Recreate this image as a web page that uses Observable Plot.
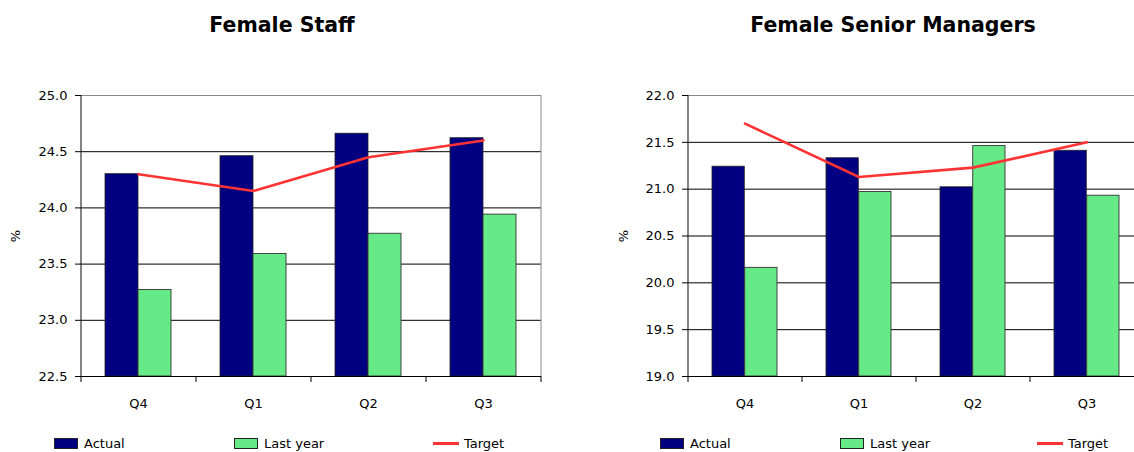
<!DOCTYPE html>
<html><head><meta charset="utf-8">
<script src="https://cdn.jsdelivr.net/npm/d3@7"></script>
<script src="https://cdn.jsdelivr.net/npm/@observablehq/plot@0.6"></script>
<style>
html,body{margin:0;padding:0;background:#fff;overflow:hidden;width:1134px;height:452px;}
#root{position:relative;width:1134px;height:452px;overflow:hidden;font-family:"DejaVu Sans",sans-serif;color:#000;}
.title{position:absolute;top:15px;font-weight:bold;font-size:20.5px;line-height:1;transform:translateX(-50%);white-space:nowrap;}
.chart{position:absolute;top:0;}
.chart svg{max-width:none !important;}
.ylab{position:absolute;font-size:13px;line-height:1;transform:translate(-50%,-50%) rotate(-90deg);}
.leg{position:absolute;top:435px;height:16px;font-size:13px;display:flex;align-items:center;white-space:nowrap;}
.sw{display:inline-block;width:22px;height:9px;border:1px solid #222;margin-right:6px;}
.ln{display:inline-block;width:26px;height:3px;background:#ff3333;margin-right:5px;}
</style></head>
<body><div id="root"></div>
<script>
// ---- data ----
const quarters = ["Q4", "Q1", "Q2", "Q3"];
const seriesNames = ["Actual", "Last year", "Target"];

const staffTitle = "Female Staff";
const staffActual = [24.30, 24.46, 24.66, 24.62];
const staffLastYear = [23.27, 23.59, 23.77, 23.94];
const staffTarget = [24.30, 24.15, 24.45, 24.60];
const staffTicks = [22.5, 23.0, 23.5, 24.0, 24.5, 25.0];

const mgrTitle = "Female Senior Managers";
const mgrActual = [21.24, 21.33, 21.02, 21.41];
const mgrLastYear = [20.16, 20.97, 21.46, 20.93];
const mgrTarget = [21.70, 21.13, 21.23, 21.50];
const mgrTicks = [19.0, 19.5, 20.0, 20.5, 21.0, 21.5, 22.0];

const colors = {"Actual": "#000080", "Last year": "#66EA88", "Target": "#FF3333"};

// ---- chart builder ----
function makeChart({actual, lastYear, target, ticks, width, marginLeft, step, rightBorder}) {
  const H = 420, mTop = 95, mBottom = 44;
  const marginRight = width - marginLeft - step * quarters.length;
  const ymin = ticks[0], ymax = ticks[ticks.length - 1];
  const pi = 0.426;
  const bandw = step * (1 - pi);
  const bars = quarters.flatMap((q, i) => [
    {quarter: q, series: "Actual", value: actual[i]},
    {quarter: q, series: "Last year", value: lastYear[i]}
  ]);
  const tgt = quarters.map((q, i) => ({quarter: q, value: target[i]}));
  const marks = [
    Plot.gridY(ticks.slice(1, -1), {stroke: "#000", strokeOpacity: 1, strokeWidth: 1}),
    Plot.ruleY([ymax], {stroke: "#888", strokeWidth: 1}),
    Plot.barY(bars.filter(d => d.series === "Actual"), {
      x: "quarter", y1: ymin, y2: "value", fill: colors["Actual"],
      stroke: "#222", strokeWidth: 0.8, insetRight: bandw / 2
    }),
    Plot.barY(bars.filter(d => d.series === "Last year"), {
      x: "quarter", y1: ymin, y2: "value", fill: colors["Last year"],
      stroke: "#333", strokeWidth: 0.9, insetLeft: bandw / 2
    }),
    Plot.lineY(tgt, {x: "quarter", y: "value", stroke: colors["Target"], strokeWidth: 2.6}),
    // category boundary ticks
    Plot.ruleX(quarters, {x: d => d, y1: ymin, y2: ymin, dx: -step / 2, insetBottom: -6, stroke: "#000"}),
    Plot.ruleX([quarters[quarters.length - 1]], {x: d => d, y1: ymin, y2: ymin, dx: step / 2, insetBottom: -6, stroke: "#000"}),
    // y axis line
    Plot.ruleX([quarters[0]], {x: d => d, y1: ymax, y2: ymin, dx: -step / 2, stroke: "#333", strokeWidth: 1.2}),
    Plot.ruleY([ymin], {stroke: "#000", strokeWidth: 1.2}),
    Plot.axisY({ticks, tickFormat: d => d.toFixed(1), tickSize: 6, tickPadding: 8, label: null, stroke: "#000"}),
    Plot.axisX({tickSize: 0, tickPadding: 22, label: null})
  ];
  if (rightBorder) {
    marks.push(Plot.ruleX([quarters[quarters.length - 1]], {x: d => d, y1: ymax, y2: ymin, dx: step / 2, stroke: "#888"}));
  }
  return Plot.plot({
    width, height: H, marginLeft, marginRight, marginTop: mTop, marginBottom: mBottom,
    style: {fontFamily: "DejaVu Sans", fontSize: "13px", color: "#000", background: "transparent", overflow: "visible", maxWidth: "none"},
    x: {domain: quarters, paddingInner: pi, paddingOuter: pi / 2, label: null, axis: null},
    y: {domain: [ymin, ymax], label: null, axis: null},
    marks
  });
}

const root = document.getElementById("root");

function addPanel({title, titleX, left, width, marginLeft, step, actual, lastYear, target, ticks, rightBorder, ylabX, legendX}) {
  const t = document.createElement("div");
  t.className = "title"; t.style.left = titleX + "px"; t.textContent = title;
  root.appendChild(t);
  const svg = makeChart({actual, lastYear, target, ticks, width, marginLeft, step, rightBorder});
  svg.style.maxWidth = "none";
  const wrap = document.createElement("div");
  wrap.className = "chart"; wrap.style.left = left + "px"; wrap.style.width = width + "px";
  wrap.appendChild(svg);
  root.appendChild(wrap);
  const yl = document.createElement("div");
  yl.className = "ylab"; yl.style.left = ylabX + "px"; yl.style.top = "236px"; yl.textContent = "%";
  root.appendChild(yl);
  seriesNames.forEach((name, i) => {
    const lg = document.createElement("div");
    lg.className = "leg"; lg.style.left = legendX[i] + "px";
    const sym = document.createElement("span");
    if (name === "Target") { sym.className = "ln"; }
    else { sym.className = "sw"; sym.style.background = colors[name]; }
    lg.appendChild(sym);
    lg.appendChild(document.createTextNode(name));
    root.appendChild(lg);
  });
}

addPanel({title: staffTitle, titleX: 282, left: 0, width: 567, marginLeft: 81, step: 115,
  actual: staffActual, lastYear: staffLastYear, target: staffTarget, ticks: staffTicks,
  rightBorder: true, ylabX: 15, legendX: [54, 234, 433]});

addPanel({title: mgrTitle, titleX: 893, left: 567, width: 600, marginLeft: 121, step: 114,
  actual: mgrActual, lastYear: mgrLastYear, target: mgrTarget, ticks: mgrTicks,
  rightBorder: false, ylabX: 623, legendX: [660, 840, 1037]});
</script>
</body></html>
